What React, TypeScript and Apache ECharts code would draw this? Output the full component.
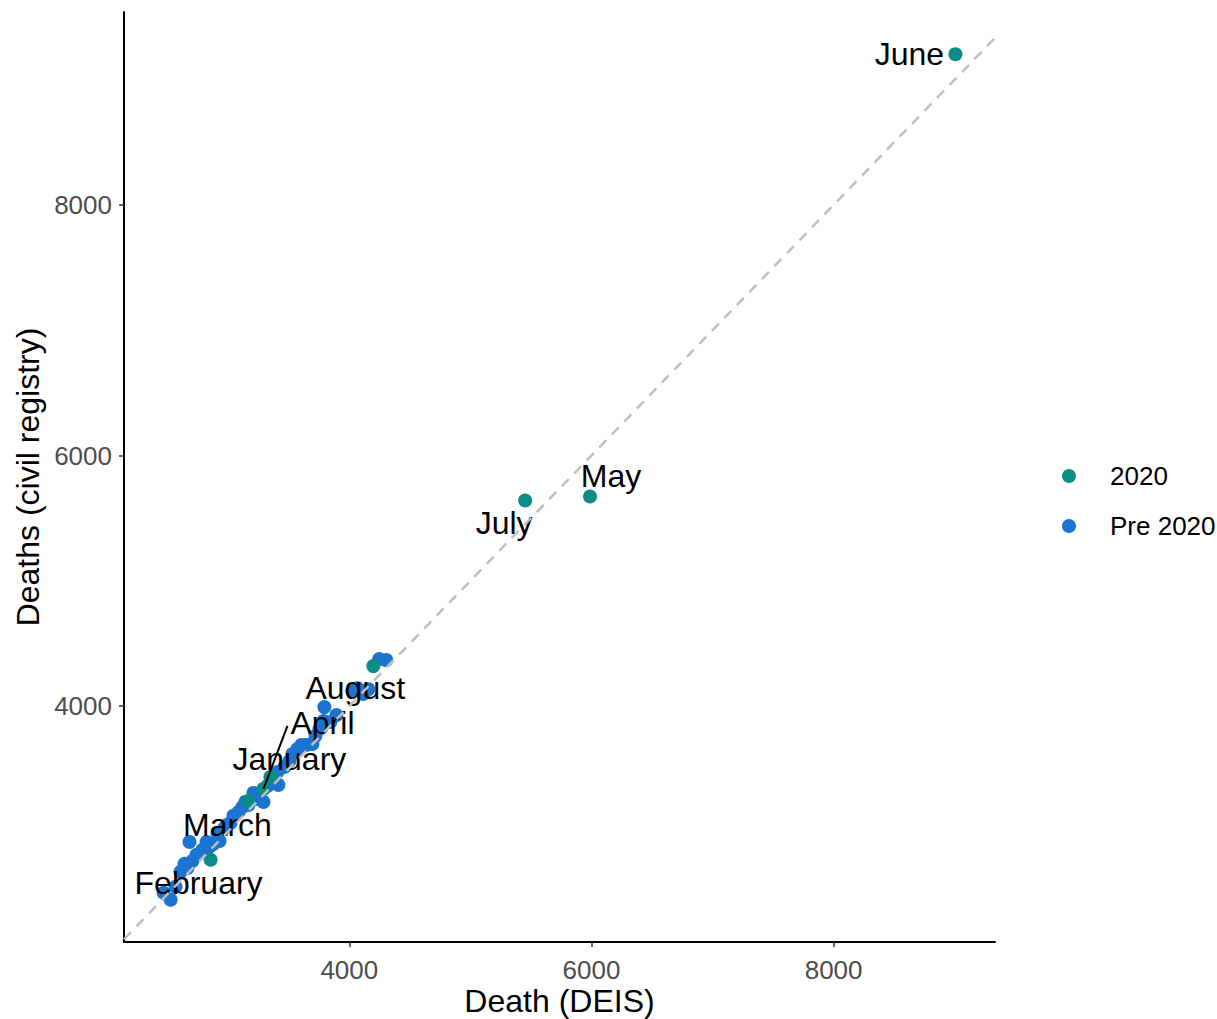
import React, { useEffect, useRef } from "react";
import * as echarts from "echarts";

// Monthly deaths 2020, DEIS count vs civil registry count
const MONTHS_2020 = ["January", "February", "March", "April", "May", "June", "July", "August"];
const DEIS_2020 = [3348, 2854, 3167, 3291, 5988, 9006, 5452, 4198];
const CIVIL_2020 = [3434, 2773, 3243, 3339, 5673, 9203, 5641, 4319];

// Monthly deaths before 2020
const DEIS_PRE = [
  2524, 2466, 2565, 2606, 2664, 2705, 2680, 2738, 2788, 2821, 2878, 2928,
  2911, 2969, 3019, 3043, 3085, 3118, 3142, 3208, 3241, 3291, 3324, 3414,
  3406, 3464, 3505, 3530, 3571, 3604, 3645, 3695, 3720, 3753, 3786, 3794,
  3843, 3893, 4025, 4066, 4115, 4157, 4247, 4305, 3167, 2994, 2845, 2639,
];
const CIVIL_PRE = [
  2454, 2510, 2558, 2677, 2709, 2765, 2916, 2813, 2853, 2916, 2900, 2924,
  2988, 3028, 3068, 3124, 3155, 3195, 3235, 3307, 3259, 3235, 3363, 3371,
  3474, 3514, 3562, 3618, 3657, 3689, 3689, 3697, 3761, 3817, 3880, 3992,
  3873, 3928, 4120, 4143, 4096, 4135, 4375, 4367, 3211, 3052, 2877, 2741,
];

// Axis ranges and tick labels
const X_RANGE = [2139, 9333];
const Y_RANGE = [2117, 9540];
const TICKS = [4000, 6000, 8000];

// Pixel shifts of the month labels away from their points
const LABEL_SHIFT: [number, number][] = [
  [19, -18], [-12, 23], [-21, 24], [59, -66], [21, -20], [-46, 0], [-21, 23], [-18, 22],
];
// Month whose label sits away from its point and gets a leader segment
const LEADER_INDEX = 3;
const LEADER_END: [number, number] = [24, -63];

const TEAL = "#0C8C87";
const BLUE = "#1C74D2";

export default function App() {
  const ref = useRef<HTMLDivElement>(null);

  useEffect(() => {
    if (!ref.current) return;
    const chart = echarts.init(ref.current, null, { renderer: "svg" });
    const font = "'Liberation Sans', Arial, Helvetica, sans-serif";

    const preData = DEIS_PRE.map((x, i) => [x, CIVIL_PRE[i]]);
    const data2020 = DEIS_2020.map((x, i) => ({ value: [x, CIVIL_2020[i]], name: MONTHS_2020[i] }));

    const axisCommon = {
      type: "value" as const,
      splitLine: { show: false },
      axisLine: { show: true, lineStyle: { color: "#000", width: 2 } },
      axisTick: {
        show: true,
        length: 5,
        lineStyle: { color: "#333", width: 1.5 },
        customValues: TICKS,
      },
      nameLocation: "middle" as const,
      nameMoveOverlap: false,
      nameTextStyle: { color: "#000", fontSize: 32, lineHeight: 34, fontFamily: font },
    };
    const labelCommon = {
      color: "#4D4D4D",
      fontSize: 26,
      fontFamily: font,
      customValues: TICKS,
      formatter: (v: number) => String(v),
    };

    chart.setOption({
      animation: false,
      textStyle: { fontFamily: font },
      grid: {
        left: 124,
        right: 222,
        top: 12,
        bottom: 77,
        containLabel: false,
        outerBoundsMode: "none",
      },
      xAxis: {
        ...axisCommon,
        axisLabel: { ...labelCommon, margin: 15 },
        min: X_RANGE[0],
        max: X_RANGE[1],
        name: "Death (DEIS)",
        nameGap: 42,
      },
      yAxis: {
        ...axisCommon,
        axisLabel: { ...labelCommon, margin: 12 },
        min: Y_RANGE[0],
        max: Y_RANGE[1],
        name: "Deaths (civil registry)",
        nameGap: 79,
      },
      legend: {
        data: ["2020", "Pre 2020"],
        orient: "vertical",
        left: 1057,
        top: 456,
        icon: "circle",
        itemWidth: 14,
        itemHeight: 14,
        itemGap: 20,
        textStyle: {
          fontSize: 26,
          color: "#000",
          fontFamily: font,
          lineHeight: 30,
          padding: [0, 0, 0, 29],
        },
      },
      series: [
        {
          name: "Pre 2020",
          type: "scatter",
          data: preData,
          symbolSize: 14,
          itemStyle: { color: BLUE, opacity: 1 },
          z: 2,
        },
        {
          name: "2020",
          type: "scatter",
          data: data2020,
          symbolSize: 14,
          itemStyle: { color: TEAL, opacity: 1 },
          z: 3,
          label: {
            show: true,
            position: "inside",
            formatter: (p: any) => p.name,
            color: "#000",
            fontSize: 32,
            fontFamily: font,
          },
          labelLayout: (p: any) => {
            const s = LABEL_SHIFT[p.dataIndex] || [0, 0];
            return { dx: s[0], dy: s[1] };
          },
        },
        {
          name: "leader",
          type: "custom",
          silent: true,
          z: 5,
          data: [[DEIS_2020[LEADER_INDEX], CIVIL_2020[LEADER_INDEX]]],
          renderItem: (_params: any, api: any) => {
            const p = api.coord([api.value(0), api.value(1)]);
            return {
              type: "line",
              shape: { x1: p[0], y1: p[1], x2: p[0] + LEADER_END[0], y2: p[1] + LEADER_END[1] },
              style: { stroke: "#000", lineWidth: 2 },
            };
          },
        },
        {
          name: "identity",
          type: "line",
          data: [
            [X_RANGE[0], X_RANGE[0]],
            [X_RANGE[1], X_RANGE[1]],
          ],
          symbol: "none",
          silent: true,
          lineStyle: { color: "#BEBEBE", width: 2.5, type: [10, 8] },
          z: 4,
        },
      ],
    });

    return () => chart.dispose();
  }, []);

  return (
    <div
      ref={ref}
      style={{ position: "absolute", left: 0, top: 0, width: 1217, height: 1019, background: "#fff" }}
    />
  );
}
